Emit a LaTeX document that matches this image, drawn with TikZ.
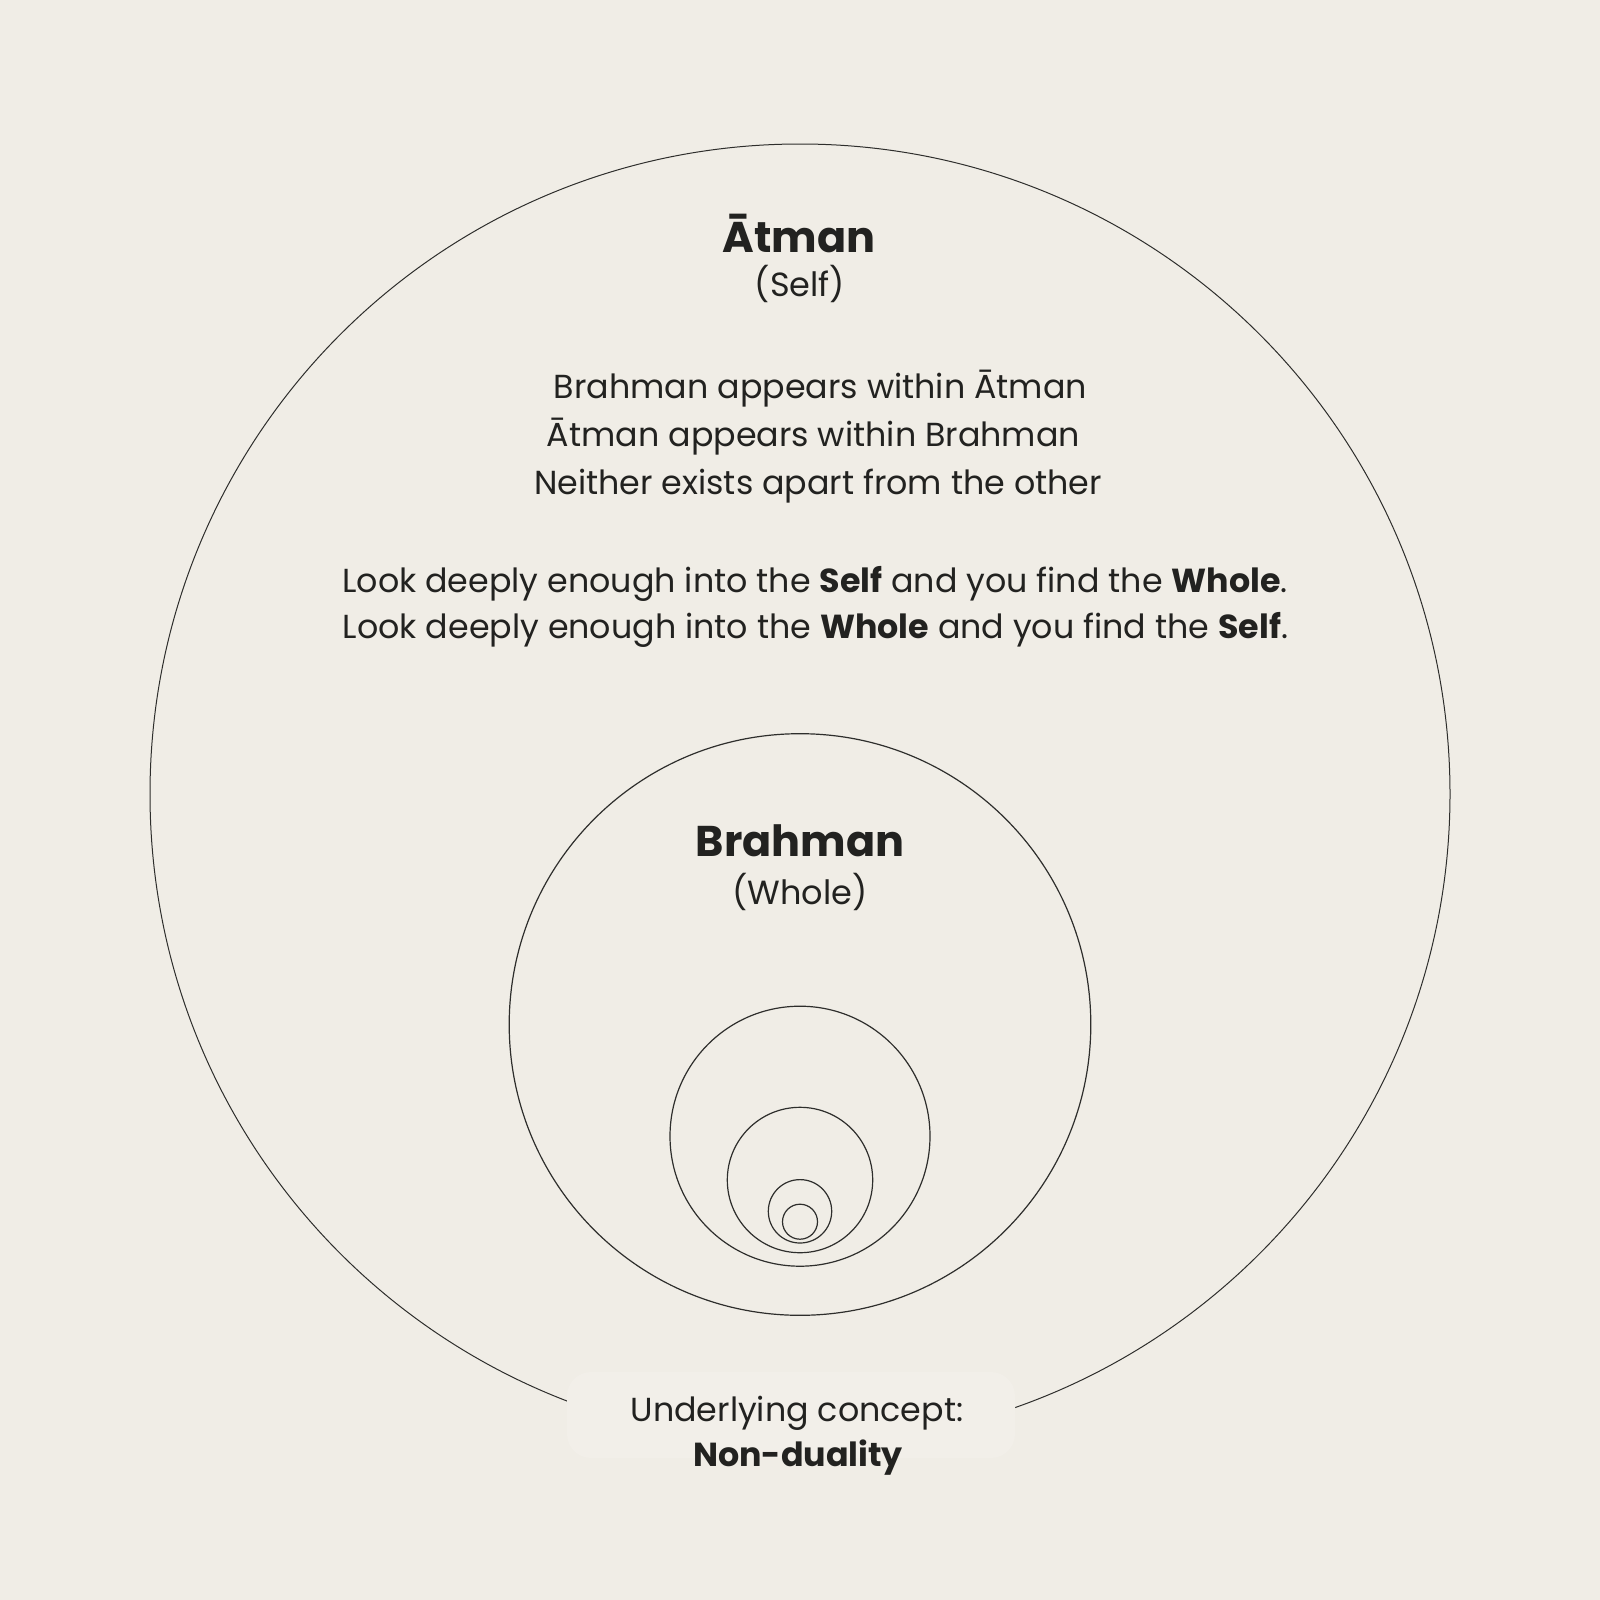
\documentclass[tikz,border=0pt]{standalone}
\usepackage{fontspec}
\setmainfont{Poppins}
\definecolor{bgc}{HTML}{F0EDE6}
\definecolor{boxc}{HTML}{F2EFE9}
\definecolor{ink}{HTML}{222220}
\definecolor{linec}{HTML}{2E2E2C}
\newcommand{\bodysize}{\fontsize{33.3}{40}\selectfont}
\newcommand{\titlesize}{\fontsize{43}{52}\selectfont}
\newcommand{\subsize}{\fontsize{33.5}{40}\selectfont}
\begin{document}
\begin{tikzpicture}[x=1pt,y=-1pt,
  ring/.style={draw=linec,line width=1.2pt},
  txt/.style={anchor=base,text=ink,inner sep=0pt,font=\bodysize},
  ttl/.style={anchor=base,text=ink,inner sep=0pt,font=\titlesize\bfseries},
  sub/.style={anchor=base,text=ink,inner sep=0pt,font=\subsize}]
\fill[bgc] (0,0) rectangle (1600,1600);
\useasboundingbox (0,0) rectangle (1600,1600);
% circles
\draw[ring,line width=1pt] (800,794) circle[radius=650pt];
\draw[ring] (800,1024.5) circle[radius=290.8pt];
\draw[ring] (800,1136.2) circle[radius=130pt];
\draw[ring] (800,1180) circle[radius=72.7pt];
\draw[ring] (800,1211.3) circle[radius=31.7pt];
\draw[ring] (800,1221.7) circle[radius=17.5pt];
% bottom label box
\fill[boxc,rounded corners=24pt] (567,1372) rectangle (1015,1458);
% texts
\node[ttl] (atman) at (799,252) {\={A}tman};
\node[sub] (self) at (800,296) {(Self)};
\node[txt] (l1) at (820.5,398) {Brahman appears within \={A}tman};
\node[txt] (l2) at (813.5,446) {\={A}tman appears within Brahman};
\node[txt] (l3) at (818,494) {Neither exists apart from the other};
\node[txt] (k1) at (815,592) {Look deeply enough into the \textbf{Self} and you find the \textbf{Whole}.};
\node[txt] (k2) at (815.5,638) {Look deeply enough into the \textbf{Whole} and you find the \textbf{Self}.};
\node[ttl] (brahman) at (800,856.7) {Brahman};
\node[sub] (whole) at (800,904) {(Whole)};
\node[txt] (u1) at (797,1421) {Underlying concept:};
\node[txt,font=\bodysize\bfseries] (u2) at (798,1466.7) {Non-duality};
\end{tikzpicture}
\end{document}
